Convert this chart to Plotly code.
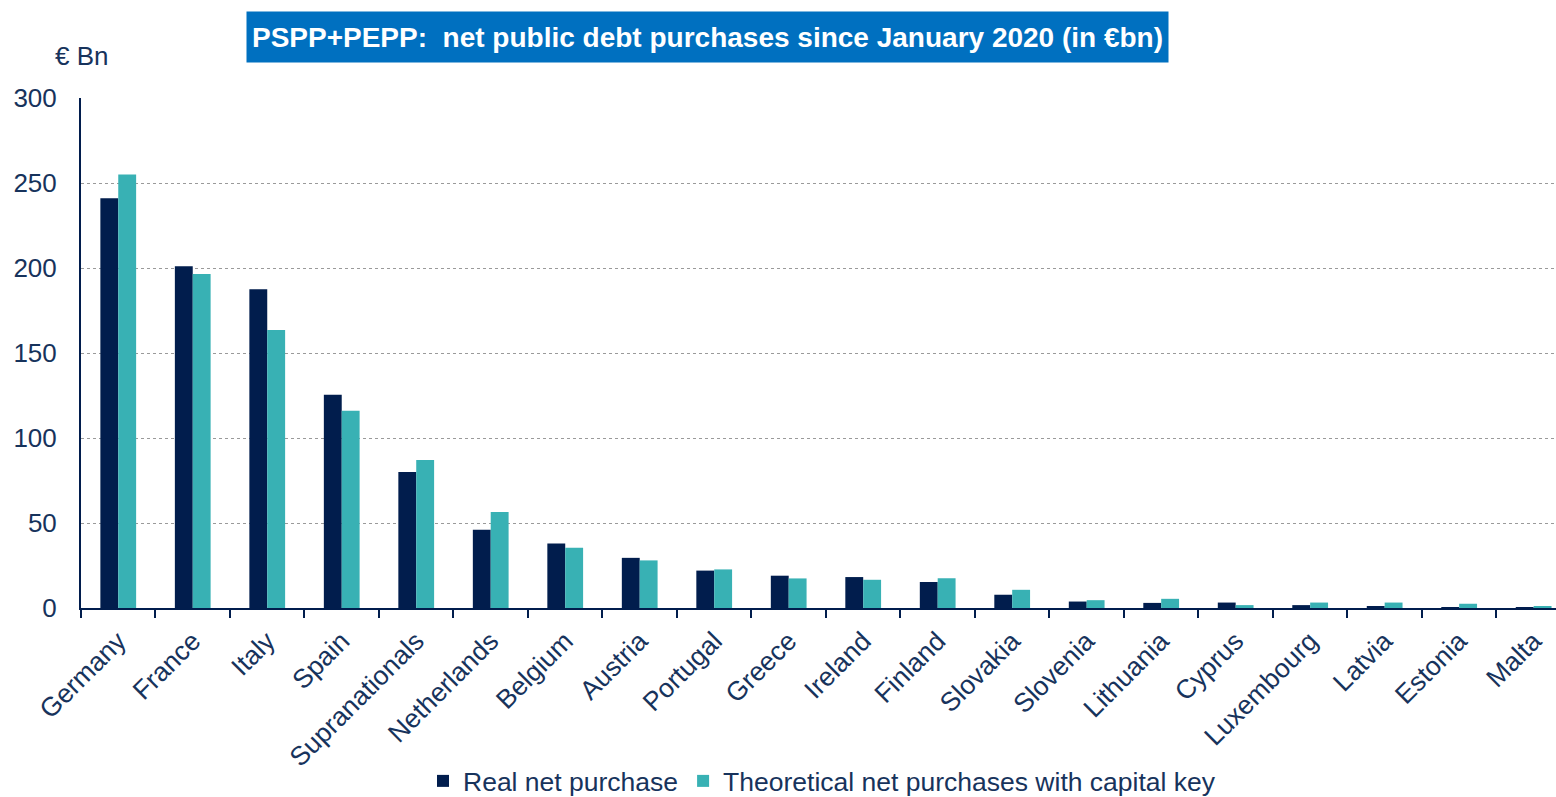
import plotly.graph_objects as go

countries = ["Germany", "France", "Italy", "Spain", "Supranationals", "Netherlands",
             "Belgium", "Austria", "Portugal", "Greece", "Ireland", "Finland",
             "Slovakia", "Slovenia", "Lithuania", "Cyprus", "Luxembourg", "Latvia",
             "Estonia", "Malta"]
real_net = [241, 201, 187.5, 125.5, 80, 46, 38, 29.5, 22, 19, 18.2, 15.3,
            7.8, 3.8, 3.0, 3.2, 1.7, 0.9, 0.5, 0.2]
theoretical = [255, 196.5, 163.5, 116, 87, 56.5, 35.5, 28, 22.7, 17.4, 16.6, 17.5,
               10.7, 4.6, 5.4, 1.7, 3.2, 3.2, 2.5, 0.9]
y_ticks = [0, 50, 100, 150, 200, 250, 300]

NAVY = "#011D4D"
TEAL = "#38B1B4"
TEXT = "#17335C"
FONT = "Liberation Sans, Arial, sans-serif"

fig = go.Figure()
fig.add_trace(go.Bar(x=countries, y=real_net, name="Real net purchase",
                     marker=dict(color=NAVY, line=dict(width=0))))
fig.add_trace(go.Bar(x=countries, y=theoretical,
                     name="Theoretical net purchases with capital key",
                     marker=dict(color=TEAL, line=dict(width=0))))

W, H = 1556, 797
L, T, B = 81, 97.5, 797 - 608.5
PW, PH = W - L, H - T - B


def px(x):
    return (x - L) / PW


def py(y):
    return (H - B - y) / PH


fig.update_layout(
    width=W, height=H,
    margin=dict(l=L, r=0, t=T, b=B, pad=0, autoexpand=False),
    paper_bgcolor="white", plot_bgcolor="white",
    barmode="group", bargap=0.52, bargroupgap=0,
    font=dict(family=FONT, size=26, color=TEXT),
    showlegend=True,
    legend=dict(orientation="h", x=px(822), xanchor="center", y=py(782), yanchor="middle",
                font=dict(size=26.5, color=TEXT), bgcolor="rgba(0,0,0,0)",
                traceorder="normal"),
    xaxis=dict(range=[-0.5, 19.3], tickangle=-45, tickson="boundaries",
               ticks="outside", ticklen=8, tickwidth=2, tickcolor=NAVY,
               showline=True, linecolor=NAVY, linewidth=2, showgrid=False,
               automargin=False, ticklabelstandoff=5,
               tickfont=dict(size=26.5, color=TEXT), fixedrange=True),
    yaxis=dict(range=[0, 300], tickvals=y_ticks, ticks="", showline=True,
               linecolor=NAVY, linewidth=2, showgrid=True, gridcolor="#9A9A9A",
               gridwidth=1, griddash="dot", zeroline=False, automargin=False,
               ticklabelstandoff=17, tickfont=dict(size=26, color=TEXT),
               fixedrange=True),
    annotations=[
        dict(text="€ Bn", xref="paper", yref="paper", x=px(53), y=py(55),
             xanchor="left", yanchor="middle", showarrow=False,
             font=dict(size=26, color=TEXT)),
        dict(text="<b>PSPP+PEPP:  net public debt purchases since January 2020 (in €bn)</b>",
             xref="paper", yref="paper", x=px(246), y=py(10),
             xanchor="left", yanchor="top", showarrow=False,
             width=921, height=50, borderpad=0, bgcolor="#0070C0",
             align="center", valign="middle",
             font=dict(family=FONT, size=28, color="white")),
    ],
)

fig.write_html("out.html")
